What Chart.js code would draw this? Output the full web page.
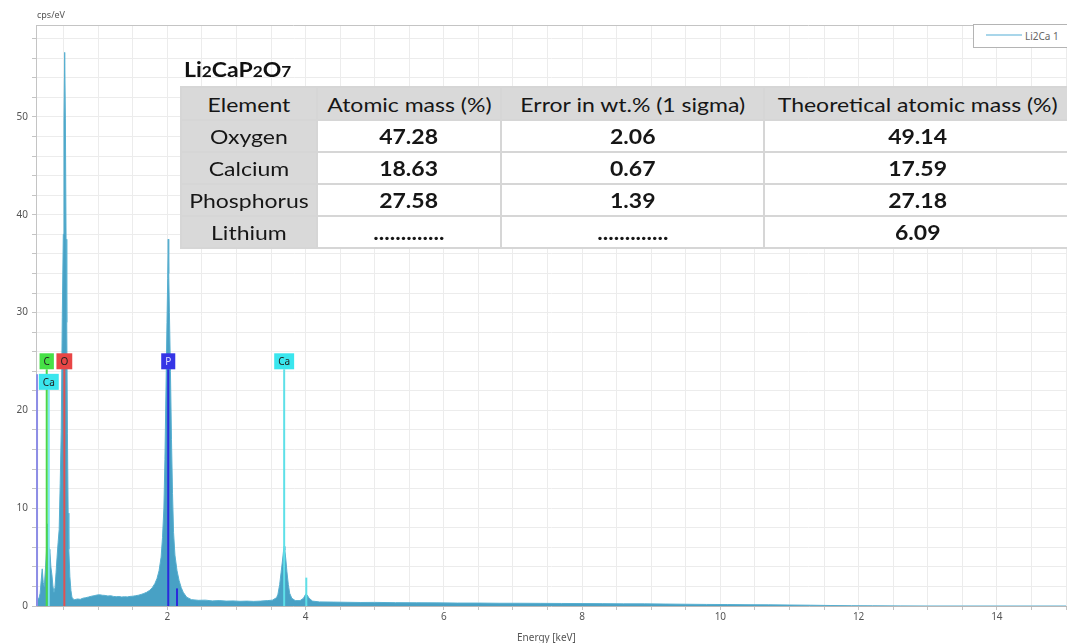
<!DOCTYPE html>
<html>
<head>
<meta charset="utf-8">
<title>Li2CaP2O7 EDS</title>
<script src="https://cdn.jsdelivr.net/npm/chart.js@4.4.1/dist/chart.umd.min.js"></script>
<style>
html,body{margin:0;padding:0;background:#fff;}
#wrap{position:relative;width:1067px;height:643px;overflow:hidden;font-family:"Noto Sans",sans-serif;}
#spec{position:absolute;left:0;top:0;}
.lbl{position:absolute;color:#555;font-size:9px;white-space:nowrap;}
#legend{position:absolute;left:973px;top:24px;width:110px;height:22px;border:1px solid #b4b4b4;background:#fff;}
#legend .ln{position:absolute;left:12px;top:9px;width:36px;height:2px;background:#a9d6ea;}
#legend .tx{position:absolute;left:51px;top:4px;font-size:10px;color:#666;}
#cmp{position:absolute;left:184px;top:57px;font-family:Lato,sans-serif;font-weight:bold;font-size:20px;color:#111;transform:scaleX(1.15);transform-origin:left center;}
#cmp small{font-size:15px;}
#tbl{position:absolute;left:180px;top:86px;border-collapse:collapse;table-layout:fixed;font-family:Lato,sans-serif;font-size:20px;color:#161616;}
#tbl td{border:2px solid #d6d6d6;text-align:center;padding:0;height:30px;background:#fff;font-weight:bold;white-space:nowrap;}
#tbl td span{display:inline-block;transform:scaleX(1.15);}
#tbl tr.hd td{background:#d9d9d9;font-weight:normal;height:31px;}
#tbl td.el{background:#d9d9d9;font-weight:normal;}
</style>
</head>
<body>
<div id="wrap">
<canvas id="spec" width="1067" height="643"></canvas>
<div class="lbl" style="left:37px;top:8px;">cps/eV</div>
<div class="lbl" style="left:517px;top:630px;font-size:10px;">Energy [keV]</div>
<div id="legend"><div class="ln"></div><div class="tx">Li2Ca 1</div></div>
<div id="cmp">Li<small>2</small>CaP<small>2</small>O<small>7</small></div>
<table id="tbl"></table>
</div>
<script>

/* ================= SPECTRUM ================= */
const energy=[
0.10,0.12,0.14,0.16,0.175,0.19,0.205,0.22,0.235,0.25,0.265,0.275,0.285,0.30,0.315,0.33,0.345,0.36,0.375,0.39,
0.405,0.42,0.435,0.45,0.465,0.48,0.495,0.505,0.515,0.525,0.535,0.545,0.555,0.565,0.575,0.59,0.605,0.62,0.64,
0.66,0.70,0.74,0.78,0.82,0.86,0.90,0.94,0.98,1.02,1.06,1.10,1.14,1.18,1.22,1.26,1.30,1.34,1.38,1.42,1.46,
1.50,1.54,1.58,1.62,1.66,1.70,1.74,1.78,1.82,1.85,1.88,1.91,1.93,1.95,1.965,1.98,1.995,2.005,2.013,2.02,
2.03,2.045,2.06,2.075,2.09,2.11,2.14,2.17,2.20,2.23,2.28,
2.35,2.45,2.55,2.65,2.75,2.85,2.95,3.05,3.15,3.25,3.35,3.45,3.52,3.58,3.60,3.625,3.645,3.665,3.68,3.69,
3.70,3.715,3.73,3.75,3.77,3.80,3.85,3.92,3.97,4.00,4.02,4.05,4.10,4.20,
4.4,4.6,4.8,5.0,5.3,5.6,5.9,6.2,6.5,6.8,7.1,7.4,7.7,8.0,8.3,8.6,8.9,9.2,9.5,9.8,
10.1,10.4,10.7,11.0,11.3,11.6,11.9,12.2,12.6,13.0,13.5,14.0,14.5,15.0
];
const counts=[
0.4,0.9,0.7,1.3,2.6,3.8,2.4,2.0,3.6,5.4,8.4,6.0,4.6,5.8,4.0,3.2,2.0,1.4,1.9,3.4,
5.0,6.5,7.8,12.5,17.8,29.5,38.0,49.6,56.6,49.8,37.5,29.0,17.6,9.5,5.8,3.0,1.6,0.9,0.7,
0.65,0.72,0.68,0.80,0.85,0.92,1.00,1.05,1.12,1.15,1.10,1.08,1.02,1.05,0.98,0.95,0.97,0.92,0.95,0.93,0.98,
1.00,1.05,1.10,1.18,1.28,1.40,1.58,1.85,2.3,2.8,3.6,5.0,7.0,10.0,15.0,22.0,29.0,33.5,37.5,34.0,
30.0,24.0,17.0,11.5,7.5,5.2,3.6,2.6,1.9,1.4,0.9,
0.65,0.58,0.60,0.52,0.55,0.50,0.52,0.48,0.50,0.47,0.50,0.55,0.60,0.85,1.2,2.2,3.4,4.6,5.6,6.1,
5.7,4.7,3.5,2.2,1.3,0.8,0.55,0.55,0.8,1.2,1.15,0.8,0.5,0.42,
0.40,0.38,0.36,0.37,0.34,0.33,0.32,0.30,0.30,0.28,0.28,0.27,0.26,0.25,0.24,0.22,0.22,0.20,0.18,0.16,
0.15,0.13,0.12,0.10,0.08,0.05,0.03,0.02,0.01,0,0,0,0,0
];

/* ================= ELEMENT MARKERS ================= */
const markerNames=["","C","Ca","O","P","","Ca",""];
const markerEnergy=[0.115,0.255,0.285,0.51,2.013,2.14,3.69,4.01];
const markerTop=[23.7,24.2,22.1,24.2,24.2,1.8,24.2,2.9];
const markerColors=["#8d8de6","#4ad84a","#7ee6ee","#e05252","#2b2bdc","#2b2bdc","#5ee0e8","#5ee0e8"];
const markerBoxColors=["","#46e046","#3ae6ee","#e84646","#3535e6","","#3ae6ee",""];

/* ================= AXES ================= */
const xTickLabels=[2,4,6,8,10,12,14];
const yTickLabels=[0,10,20,30,40,50];
const xRange=[0.1,15.0];
const yRange=[0,59.4];

/* ================= TABLE ================= */
const tableHeader=["Element","Atomic mass (%)","Error in wt.% (1 sigma)","Theoretical atomic mass (%)"];
const tableElements=["Oxygen","Calcium","Phosphorus","Lithium"];
const atomicMass=["47.28","18.63","27.58","............."];
const errorWt=["2.06","0.67","1.39","............."];
const theoMass=["49.14","17.59","27.18","6.09"];
const colWidths=[136,184,263,307];

function cell(txt,cls){
return "<td"+(cls?' class="'+cls+'"':"")+"><span>"+txt+"</span></td>";
}

function buildTable(){
const t=document.getElementById("tbl");
let html="<colgroup>"+colWidths.map(w=>'<col style="width:'+w+'px">').join("")+"</colgroup>";
html+='<tr class="hd">'+tableHeader.map(h=>cell(h)).join("")+"</tr>";
tableElements.forEach((el,i)=>{
html+="<tr>"+cell(el,"el")+cell(atomicMass[i])+cell(errorWt[i])+cell(theoMass[i])+"</tr>";
});
t.innerHTML=html;
t.style.width=colWidths.reduce((a,b)=>a+b,0)+"px";
}
buildTable();

const spectrum=energy.map((e,i)=>({x:e,y:counts[i]}));

const markerSets=markerEnergy.map((e,i)=>({
label:markerNames[i]||"line",
data:[{x:e,y:0},{x:e,y:markerTop[i]}],
borderColor:markerColors[i],
borderWidth:2,
pointRadius:0,
fill:false,
order:1
}));

/* element label boxes + frame top line */
const markerBoxes={
id:"markerBoxes",
afterDatasetsDraw(chart){
const ctx=chart.ctx;
const xs=chart.scales.x, ys=chart.scales.y;
const a=chart.chartArea;
ctx.save();
ctx.strokeStyle="#c4c4c4";
ctx.lineWidth=1;
ctx.beginPath();
ctx.moveTo(a.left,a.top+0.5);
ctx.lineTo(a.right,a.top+0.5);
ctx.stroke();
ctx.font="10px 'Noto Sans'";
ctx.textAlign="center";
ctx.textBaseline="middle";
markerNames.forEach((n,i)=>{
if(!n) return;
const px=xs.getPixelForValue(markerEnergy[i]);
const py=ys.getPixelForValue(markerTop[i]);
const w=Math.max(ctx.measureText(n).width+8,13);
const h=16;
ctx.fillStyle=markerBoxColors[i];
ctx.fillRect(px-w/2,py-h,w,h);
ctx.fillStyle=n==="P"?"#dcdcff":"#222";
ctx.fillText(n,px,py-h/2+1);
});
ctx.restore();
}
};

new Chart(
document.getElementById("spec"),
{
type:"line",
data:{
datasets:[
{
label:"Li2Ca 1",
data:spectrum,
borderColor:"#56afd0",
backgroundColor:"#48a1c5",
borderWidth:1,
pointRadius:0,
fill:"origin",
tension:0,
order:2
},
...markerSets
]
},
options:{
responsive:false,
animation:false,
layout:{padding:{top:25,left:0,right:0,bottom:0}},
plugins:{
legend:{display:false},
tooltip:{enabled:false}
},
scales:{
x:{
type:"linear",
min:xRange[0],
max:xRange[1],
afterBuildTicks:(s)=>{
const t=[];
for(let v=0.5;v<=15;v+=0.5) t.push({value:v});
s.ticks=t;
},
afterFit:(s)=>{s.height=37;},
grid:{color:"#ececec",tickColor:"#c4c4c4",tickLength:4},
border:{color:"#b8b8b8"},
ticks:{
autoSkip:false,
maxRotation:0,
padding:1,
color:"#555",
font:{family:"Noto Sans",size:10},
callback:(v)=>xTickLabels.includes(v)?String(v):""
}
},
y:{
min:yRange[0],
max:yRange[1],
afterBuildTicks:(s)=>{
const t=[];
for(let v=0;v<=58;v+=2) t.push({value:v});
s.ticks=t;
},
afterFit:(s)=>{s.width=36;},
grid:{color:"#ececec",tickColor:"#c4c4c4",tickLength:4},
border:{color:"#c4c4c4"},
ticks:{
autoSkip:false,
padding:4,
color:"#555",
font:{family:"Noto Sans",size:10},
callback:(v)=>yTickLabels.includes(v)?String(v):""
}
}
}
},
plugins:[markerBoxes]
}
);

</script>
</body>
</html>
